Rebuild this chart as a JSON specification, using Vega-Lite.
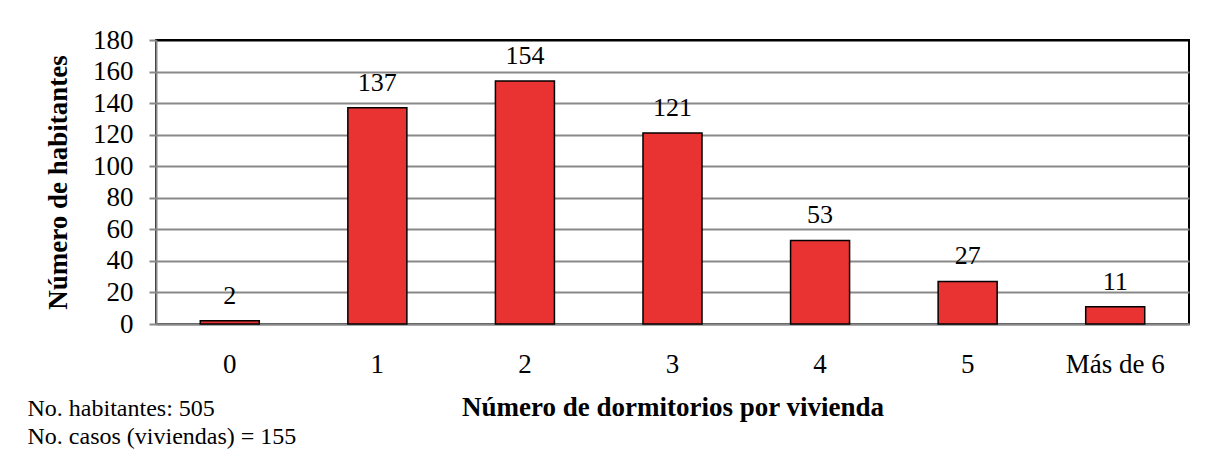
{
  "$schema": "https://vega.github.io/schema/vega-lite/v6.json",
  "width": 1033,
  "height": 284,
  "autosize": {"type": "none"},
  "padding": {"left": 156, "top": 40, "right": 18, "bottom": 131},
  "background": "white",
  "config": {
    "font": "Liberation Serif",
    "text": {"font": "Liberation Serif"},
    "view": {"stroke": "black", "strokeWidth": 2}
  },
  "title": {
    "text": ["No. habitantes: 505", "No. casos (viviendas) = 155"],
    "orient": "bottom",
    "anchor": "start",
    "frame": "bounds",
    "font": "Liberation Serif",
    "fontSize": 24,
    "fontWeight": "normal",
    "color": "black",
    "lineHeight": 28,
    "offset": 0,
    "dx": -17,
    "dy": -23
  },
  "data": {
    "values": [
      {"dormitorios": "0", "habitantes": 2},
      {"dormitorios": "1", "habitantes": 137},
      {"dormitorios": "2", "habitantes": 154},
      {"dormitorios": "3", "habitantes": 121},
      {"dormitorios": "4", "habitantes": 53},
      {"dormitorios": "5", "habitantes": 27},
      {"dormitorios": "Más de 6", "habitantes": 11}
    ]
  },
  "encoding": {
    "x": {
      "field": "dormitorios",
      "type": "nominal",
      "sort": null,
      "scale": {"paddingInner": 0.6, "paddingOuter": 0.3},
      "axis": {
        "title": "Número de dormitorios por vivienda",
        "titleFont": "Liberation Serif",
        "titleFontSize": 27,
        "titleFontWeight": "bold",
        "titleColor": "black",
        "titlePadding": 17,
        "labelAngle": 0,
        "labelFont": "Liberation Serif",
        "labelFontSize": 27,
        "labelColor": "black",
        "labelPadding": 27,
        "ticks": false,
        "domainColor": "#898989",
        "domainWidth": 2
      }
    },
    "y": {
      "field": "habitantes",
      "type": "quantitative",
      "scale": {"domain": [0, 180], "nice": false},
      "axis": {
        "title": "Número de habitantes",
        "titleFont": "Liberation Serif",
        "titleFontSize": 27,
        "titleFontWeight": "bold",
        "titleColor": "black",
        "titlePadding": 20,
        "values": [0, 20, 40, 60, 80, 100, 120, 140, 160, 180],
        "labelFont": "Liberation Serif",
        "labelFontSize": 27,
        "labelColor": "black",
        "labelPadding": 16,
        "tickSize": 7,
        "tickColor": "#898989",
        "tickWidth": 2,
        "domainColor": "#898989",
        "domainWidth": 2,
        "grid": true,
        "gridColor": {"condition": {"test": "datum.value == 180", "value": "black"}, "value": "#898989"},
        "gridWidth": 2
      }
    }
  },
  "layer": [
    {
      "mark": {"type": "bar", "color": "#e93232", "stroke": "black", "strokeWidth": 1.5}
    },
    {
      "mark": {"type": "text", "font": "Liberation Serif", "fontSize": 26, "color": "black", "baseline": "alphabetic", "dy": -17},
      "encoding": {"text": {"field": "habitantes", "type": "quantitative"}}
    }
  ]
}
